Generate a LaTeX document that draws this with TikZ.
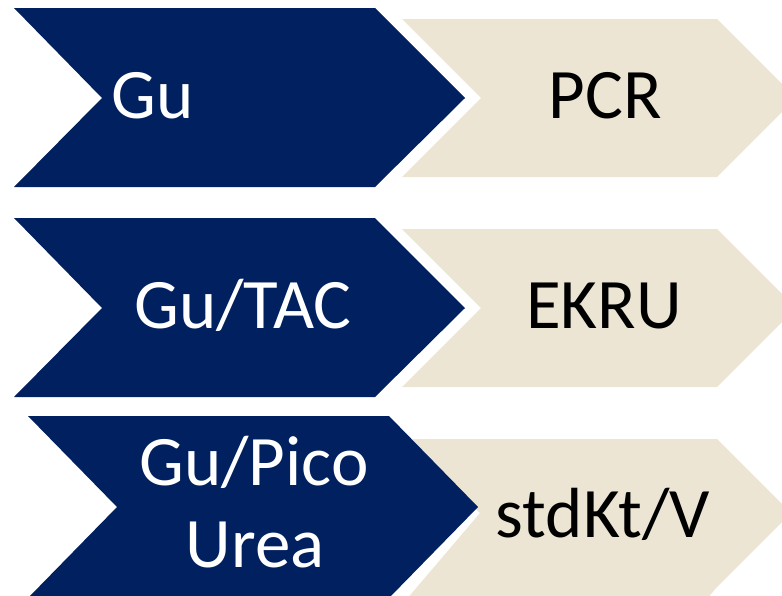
\documentclass[tikz,border=0pt]{standalone}
\usepackage{fontspec}
\setmainfont{Carlito}
\definecolor{navy}{HTML}{002060}
\definecolor{tan}{HTML}{ECE5D3}
\tikzset{
  darkchev/.style={fill=navy, draw=none},
  lightchev/.style={fill=tan, draw=none},
  wlabel/.style={text=white, inner sep=0pt, anchor=base, font=\fontsize{71}{80}\selectfont},
  blabel/.style={text=black, inner sep=0pt, anchor=base, font=\fontsize{71}{80}\selectfont}
}
\begin{document}
\begin{tikzpicture}[x=1pt,y=-1pt]
\useasboundingbox (0,0) rectangle (782,595);
\begin{scope}
\clip (0,0) rectangle (782,595);
% row 1
\path[lightchev] (402,19) -- (717,19) -- (796,98) -- (717,177) -- (402,177) -- (481,98) -- cycle;
\path[darkchev] (14,8) -- (375,8) -- (465,98) -- (375,187) -- (14,187) -- (102,98) -- cycle;
% row 2
\path[lightchev] (402,229) -- (717,229) -- (796,308) -- (717,387) -- (402,387) -- (481,308) -- cycle;
\path[darkchev] (14,218) -- (375,218) -- (465,308) -- (375,397) -- (14,397) -- (102,308) -- cycle;
% row 3
\path[lightchev] (406,439) -- (717,439) -- (791,513) -- (717,587) -- (706,600) -- (406,600) -- (480,513) -- cycle;
\path[darkchev] (28,416) -- (389,416) -- (478,507) -- (389,598) -- (389,610) -- (28,610) -- (28,598) -- (117,507) -- cycle;
\end{scope}
\node[wlabel] (gu) at (153,118) {Gu};
\node[blabel] (pcr) at (605,118) {PCR};
\node[wlabel] (gutac) at (243,328) {Gu/TAC};
\node[blabel] (ekru) at (604,328) {EKRU};
\node[wlabel] (gupico) at (254,485) {Gu/Pico};
\node[wlabel] (urea) at (255,567) {Urea};
\node[blabel] (stdkt) at (603,537) {stdKt/V};
\end{tikzpicture}
\end{document}
